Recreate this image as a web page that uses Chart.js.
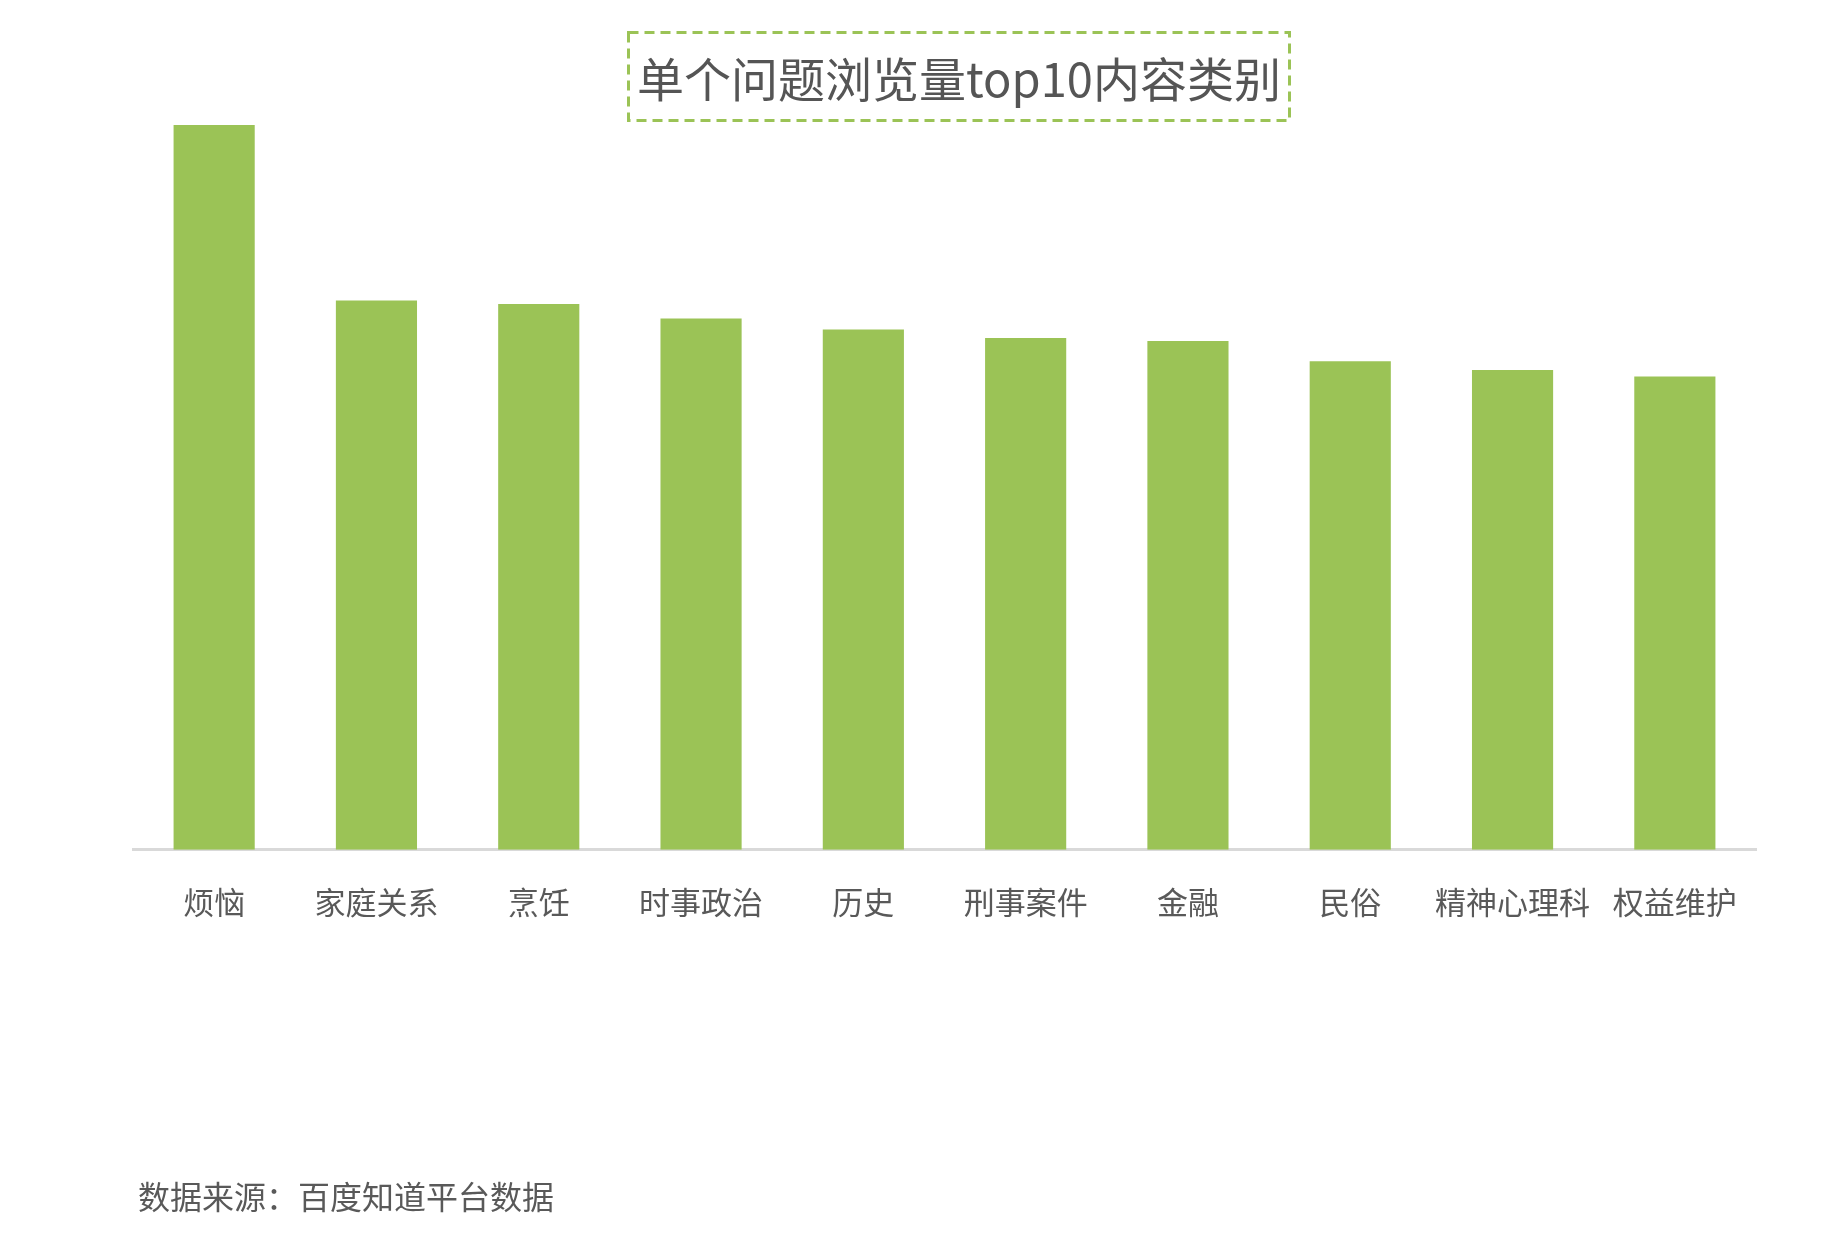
<!DOCTYPE html>
<html>
<head>
<meta charset="utf-8">
<script src="https://cdn.jsdelivr.net/npm/chart.js@4"></script>
<style>
    html, body { margin: 0; padding: 0; background: #fff; }
    #wrap { position: relative; width: 1838px; height: 1236px; }
    #box { position: absolute; left: 627px; top: 31px; }
    #title {
        position: absolute; left: 627px; top: 31px; width: 664px; height: 91px;
        font: 47px "Noto Sans CJK SC", sans-serif; color: #555;
        display: flex; align-items: center; justify-content: center;
    }
    #source {
        position: absolute; left: 138px; top: 1172px;
        font: 32px "Noto Sans CJK SC", sans-serif; color: #595959;
    }
</style>
</head>
<body>
<div id="wrap">
    <canvas id="chart" width="1838" height="1236"></canvas>
    <svg id="box" width="664" height="91">
        <rect x="1.5" y="1.5" width="661" height="88" fill="none"
              stroke="#9bc356" stroke-width="3" stroke-dasharray="10 6"/>
    </svg>
    <div id="title">单个问题浏览量top10内容类别</div>
    <div id="source">数据来源：百度知道平台数据</div>
</div>
<script>
// Categories and relative page views (no axis values shown in the original)
const categories = ['烦恼', '家庭关系', '烹饪', '时事政治', '历史', '刑事案件', '金融', '民俗', '精神心理科', '权益维护'];
const views = [100, 75.8, 75.3, 73.3, 71.8, 70.6, 70.2, 67.4, 66.2, 65.3];

new Chart(document.getElementById('chart'), {
    type: 'bar',
    data: {
        labels: categories,
        datasets: [{
            data: views,
            backgroundColor: '#9bc356',
            categoryPercentage: 1,
            barPercentage: 0.5,
        }]
    },
    options: {
        responsive: false,
        animation: false,
        layout: { padding: { left: 133, right: 82, top: 125, bottom: 289 } },
        plugins: { legend: { display: false }, tooltip: { enabled: false } },
        scales: {
            x: {
                grid: { display: false },
                border: { display: true, color: '#d9d9d9', width: 3 },
                ticks: {
                    color: '#595959',
                    padding: 26,
                    maxRotation: 0,
                    font: { family: '"Noto Sans CJK SC", sans-serif', size: 31 }
                }
            },
            y: { display: false, min: 0, max: 100 }
        }
    }
});
</script>
</body>
</html>
